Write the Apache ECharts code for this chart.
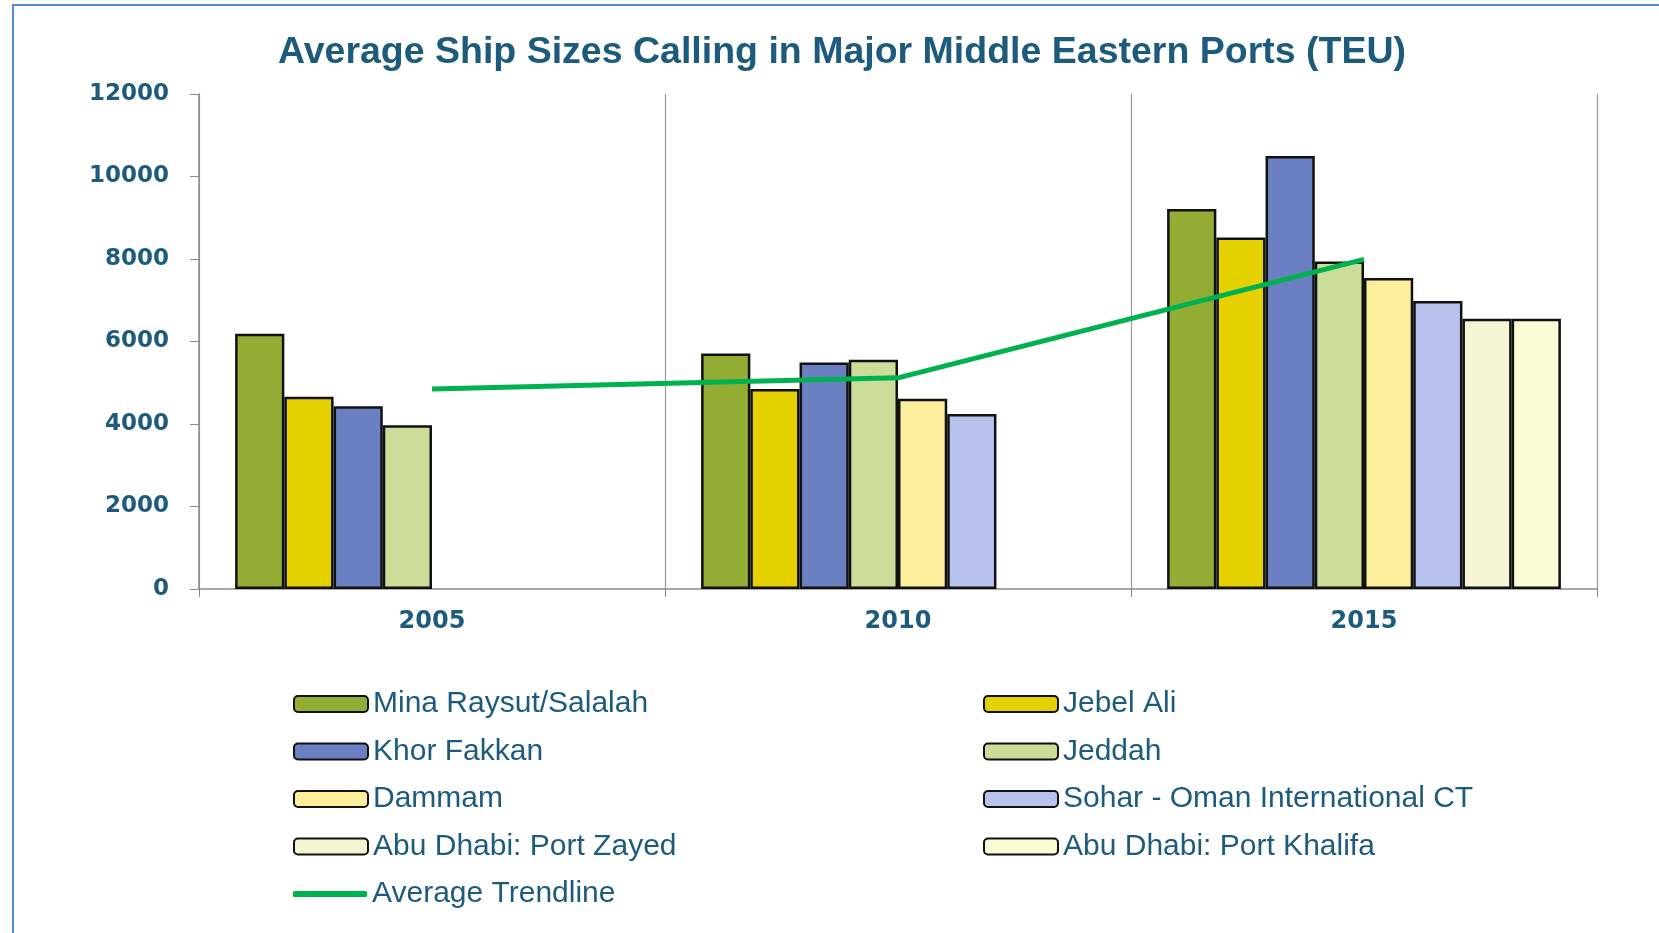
<!DOCTYPE html>
<html>
<head>
<meta charset="utf-8">
<script src="https://cdn.jsdelivr.net/npm/echarts@6/dist/echarts.min.js"></script>
<style>html,body{margin:0;padding:0;background:#fff;}#c{width:1659px;height:933px;}</style>
</head>
<body>
<div id="c"></div>
<script>
const categories = ['2005', '2010', '2015'];
const minaRaysut = [6190, 5710, 9210];
const jebelAli = [4660, 4850, 8520];
const khorFakkan = [4430, 5490, 10500];
const jeddah = [3970, 5560, 7940];
const dammam = [null, 4610, 7540];
const sohar = [null, 4240, 6980];
const portZayed = [null, null, 6550];
const portKhalifa = [null, null, 6550];
const averageTrend = [4850, 5120, 7990];
const yTicks = { min: 0, max: 12000, interval: 2000 };

const barSeries = [
  ['Mina Raysut/Salalah', minaRaysut, '#93ad34'],
  ['Jebel Ali', jebelAli, '#e5d100'],
  ['Khor Fakkan', khorFakkan, '#6b80c2'],
  ['Jeddah', jeddah, '#cbdd99'],
  ['Dammam', dammam, '#fcee9a'],
  ['Sohar - Oman International CT', sohar, '#b9c2ec'],
  ['Abu Dhabi: Port Zayed', portZayed, '#f5f4d3'],
  ['Abu Dhabi: Port Khalifa', portKhalifa, '#fcfdd7']
];
const textColor = '#1d5b7d';
const trendColor = '#00b14f';

const series = barSeries.map(([name, data, color]) => ({
  name, type: 'bar', data,
  barGap: '0%', barCategoryGap: '15.5%',
  itemStyle: { color, borderColor: '#111', borderWidth: 2.5 },
  emphasis: { disabled: true }
}));
series.push({
  name: 'Average Trendline', type: 'line', data: averageTrend,
  symbol: 'none', showSymbol: false,
  lineStyle: { color: trendColor, width: 5 },
  itemStyle: { color: trendColor },
  z: 5
});

const legendText = { color: textColor, fontSize: 30, fontFamily: 'Liberation Sans, Arial, sans-serif', lineHeight: 28 };
const legendBase = { orient: 'vertical', itemWidth: 74, itemHeight: 16, itemGap: 17.5, textStyle: legendText, padding: 0 };

const chart = echarts.init(document.getElementById('c'));
chart.setOption({
  animation: false,
  backgroundColor: '#ffffff',
  graphic: [{
    type: 'rect', shape: { x: 13, y: 5, width: 1700, height: 1000 },
    style: { fill: 'none', stroke: '#5a8ad4', lineWidth: 2 }, silent: true, z: -10
  }],
  title: {
    text: 'Average Ship Sizes Calling in Major Middle Eastern Ports (TEU)',
    left: 278, top: 34, padding: 0,
    textStyle: { color: textColor, fontSize: 37.5, fontWeight: 'bold', fontFamily: 'Liberation Sans, Arial, sans-serif' }
  },
  grid: { left: 199, right: 62, top: 94, bottom: 344, containLabel: false },
  legend: [
    Object.assign({}, legendBase, { left: 293, top: 689,
      data: ['Mina Raysut/Salalah', 'Khor Fakkan', 'Dammam', 'Abu Dhabi: Port Zayed'] }),
    Object.assign({}, legendBase, { left: 983, top: 689,
      data: ['Jebel Ali', 'Jeddah', 'Sohar - Oman International CT', 'Abu Dhabi: Port Khalifa'] }),
    Object.assign({}, legendBase, { left: 293, top: 879, itemHeight: 6,
      data: [{ name: 'Average Trendline', icon: 'roundRect' }] })
  ],
  xAxis: {
    type: 'category', data: categories, boundaryGap: true,
    axisLine: { lineStyle: { color: '#8a8a8a', width: 1.5 } },
    axisTick: { show: true, length: 8, lineStyle: { color: '#8a8a8a' } },
    splitLine: { show: true, lineStyle: { color: '#9a9a9a', width: 1.2 } },
    axisLabel: { color: textColor, fontSize: 24, fontWeight: 'bold', fontFamily: 'DejaVu Sans, sans-serif', margin: 21 }
  },
  yAxis: {
    type: 'value', min: yTicks.min, max: yTicks.max, interval: yTicks.interval,
    axisLine: { show: true, lineStyle: { color: '#8a8a8a', width: 1.5 } },
    axisTick: { show: true, length: 9, lineStyle: { color: '#8a8a8a' } },
    splitLine: { show: false },
    axisLabel: { color: textColor, fontSize: 23, fontWeight: 'bold', fontFamily: 'DejaVu Sans, sans-serif', margin: 30,
      formatter: v => String(v) }
  },
  series
});
</script>
</body>
</html>
